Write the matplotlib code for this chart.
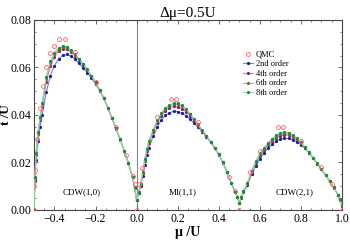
import numpy as np
import matplotlib
matplotlib.use("Agg")
import matplotlib.pyplot as plt
from matplotlib.ticker import MultipleLocator

plt.rcParams["font.family"] = ["Liberation Serif", "DejaVu Serif"]
plt.rcParams["mathtext.fontset"] = "stix"

# chemical potential grids for the three lobes
mu1 = [-0.5, -0.495, -0.49, -0.48, -0.47, -0.46, -0.44, -0.42, -0.40, -0.38,
       -0.36, -0.34, -0.32, -0.30, -0.28, -0.26, -0.24, -0.22, -0.20, -0.18,
       -0.16, -0.14, -0.12, -0.10, -0.08, -0.06, -0.04, -0.02, -0.01, 0.0]
mu2 = [0.01, 0.02, 0.03, 0.04, 0.05, 0.06, 0.08, 0.10, 0.12, 0.14, 0.16,
       0.18, 0.20, 0.22, 0.24, 0.26, 0.28, 0.30, 0.32, 0.34, 0.36, 0.38,
       0.40, 0.42, 0.44, 0.46, 0.48, 0.49, 0.50]
mu3 = [0.51, 0.52, 0.54, 0.56, 0.58, 0.60, 0.62, 0.64, 0.66, 0.68, 0.70,
       0.72, 0.74, 0.76, 0.78, 0.80, 0.82, 0.84, 0.86, 0.88, 0.90, 0.92,
       0.94, 0.96, 0.98, 0.99, 1.00]

# t/U of each order of the strong coupling expansion
o2_1 = [0.0, 0.012, 0.021, 0.029, 0.035, 0.040, 0.0495, 0.0565, 0.0608, 0.0636,
        0.0651, 0.0655, 0.0648, 0.0634, 0.0617, 0.0598, 0.0578, 0.0555, 0.0530, 0.0502,
        0.0470, 0.0429, 0.0386, 0.0342, 0.0296, 0.0247, 0.0196, 0.0139, 0.0094, 0.0040]
o4_1 = [0.0, 0.013, 0.023, 0.032, 0.038, 0.0435, 0.0540, 0.0605, 0.0645, 0.0669,
        0.0678, 0.0677, 0.0665, 0.0649, 0.0632, 0.0611, 0.0589, 0.0563, 0.0535, 0.0505,
        0.0471, 0.0430, 0.0387, 0.0343, 0.0297, 0.0248, 0.0197, 0.0140, 0.0095, 0.0040]
o6_1 = [0.0, 0.0135, 0.0235, 0.0325, 0.0385, 0.0445, 0.0553, 0.0617, 0.0655, 0.0677,
        0.0686, 0.0684, 0.0670, 0.0653, 0.0635, 0.0614, 0.0591, 0.0564, 0.0537, 0.0506,
        0.0472, 0.0430, 0.0387, 0.0343, 0.0297, 0.0248, 0.0197, 0.0140, 0.0095, 0.0040]
o8_1 = [0.0, 0.014, 0.024, 0.033, 0.039, 0.045, 0.0560, 0.0625, 0.0662, 0.0683,
        0.0690, 0.0688, 0.0673, 0.0655, 0.0637, 0.0615, 0.0592, 0.0565, 0.0537, 0.0506,
        0.0472, 0.0430, 0.0387, 0.0343, 0.0297, 0.0248, 0.0197, 0.0140, 0.0095, 0.0040]

o2_2 = [0.0070, 0.0100, 0.0145, 0.0190, 0.0230, 0.0262, 0.0310, 0.0348, 0.0378, 0.0398,
        0.0410, 0.0415, 0.0414, 0.0408, 0.0397, 0.0382, 0.0365, 0.0348, 0.0328, 0.0307,
        0.0285, 0.0260, 0.0233, 0.0199, 0.0159, 0.0114, 0.0074, 0.0054, 0.0030]
o4_2 = [0.0073, 0.0105, 0.0155, 0.0205, 0.0248, 0.0282, 0.0328, 0.0366, 0.0395, 0.0418,
        0.0430, 0.0436, 0.0435, 0.0427, 0.0414, 0.0396, 0.0376, 0.0355, 0.0332, 0.0310,
        0.0287, 0.0261, 0.0234, 0.0200, 0.0160, 0.0115, 0.0075, 0.0055, 0.0030]
o6_2 = [0.0074, 0.0108, 0.0157, 0.0211, 0.0254, 0.0288, 0.0334, 0.0373, 0.0403, 0.0425,
        0.0438, 0.0444, 0.0444, 0.0436, 0.0421, 0.0402, 0.0381, 0.0358, 0.0334, 0.0311,
        0.0288, 0.0262, 0.0235, 0.0200, 0.0160, 0.0115, 0.0075, 0.0055, 0.0030]
o8_2 = [0.0075, 0.0110, 0.0160, 0.0215, 0.0258, 0.0292, 0.0338, 0.0377, 0.0408, 0.0430,
        0.0443, 0.0449, 0.0449, 0.0440, 0.0425, 0.0405, 0.0383, 0.0360, 0.0335, 0.0312,
        0.0288, 0.0262, 0.0235, 0.0200, 0.0160, 0.0115, 0.0075, 0.0055, 0.0030]

o2_3 = [0.0052, 0.0075, 0.0105, 0.0150, 0.0187, 0.0216, 0.0240, 0.0260, 0.0276, 0.0289,
        0.0298, 0.0302, 0.0301, 0.0296, 0.0287, 0.0275, 0.0259, 0.0240, 0.0219, 0.0195,
        0.0171, 0.0147, 0.0121, 0.0094, 0.0064, 0.0044, 0.0015]
o4_3 = [0.0054, 0.0078, 0.0111, 0.0158, 0.0197, 0.0228, 0.0252, 0.0272, 0.0289, 0.0302,
        0.0312, 0.0316, 0.0315, 0.0308, 0.0296, 0.0280, 0.0261, 0.0241, 0.0219, 0.0195,
        0.0171, 0.0147, 0.0121, 0.0094, 0.0065, 0.0045, 0.0015]
o6_3 = [0.0055, 0.0079, 0.0113, 0.0162, 0.0201, 0.0233, 0.0257, 0.0278, 0.0295, 0.0308,
        0.0318, 0.0322, 0.0320, 0.0312, 0.0299, 0.0282, 0.0263, 0.0242, 0.0219, 0.0196,
        0.0172, 0.0148, 0.0122, 0.0095, 0.0065, 0.0045, 0.0015]
o8_3 = [0.0055, 0.0080, 0.0115, 0.0165, 0.0205, 0.0238, 0.0262, 0.0283, 0.0300, 0.0314,
        0.0325, 0.0329, 0.0326, 0.0317, 0.0303, 0.0285, 0.0265, 0.0243, 0.0220, 0.0196,
        0.0172, 0.0148, 0.0122, 0.0095, 0.0065, 0.0045, 0.0015]

# QMC points
qmc_mu = [-0.5, -0.499, -0.497, -0.485, -0.47, -0.455, -0.44, -0.42, -0.40,
          -0.377, -0.349, -0.30, -0.20, -0.10, -0.05, -0.02, -0.01, 0.0,
          0.01, 0.024, 0.10, 0.167, 0.19, 0.30, 0.45, 0.48, 0.50,
          0.55, 0.60, 0.69, 0.714, 0.80, 0.90, 0.95, 1.0]
qmc_t = [0.0, 0.010, 0.017, 0.030, 0.043, 0.052, 0.060, 0.066, 0.069,
         0.0719, 0.0719, 0.0665, 0.054, 0.035, 0.023, 0.0145, 0.011, 0.0,
         0.011, 0.0177, 0.039, 0.0465, 0.0465, 0.037, 0.014, 0.008, 0.0,
         0.016, 0.025, 0.0348, 0.0348, 0.029, 0.018, 0.011, 0.0]

series = [
    ("2nd order", [o2_1, o2_2, o2_3], "#7080d8", "#1a1a9a"),
    ("4th order", [o4_1, o4_2, o4_3], "#d080b0", "#8a1a6a"),
    ("6th order", [o6_1, o6_2, o6_3], "#c8a860", "#7a6a20"),
    ("8th order", [o8_1, o8_2, o8_3], "#80d8a8", "#208a40"),
]

mu = np.concatenate([mu1, mu2, mu3])

fig = plt.figure(figsize=(3.5, 2.43), dpi=100)
ax = fig.add_axes([0.097, 0.136, 0.88, 0.782])

ax.axvline(0.0, color="#888888", lw=0.8, zorder=1)

handles = []
qmc, = ax.plot(qmc_mu, qmc_t, ls="none", marker="o", ms=2.8, mfc="none",
               mec="#ff6060", mew=0.6, zorder=6, label="QMC")
for name, parts, lc, mc in series:
    h, = ax.plot(mu, np.concatenate(parts), color=lc, lw=0.8, marker="o",
                 ms=2.3, mfc=mc, mec=mc, mew=0, label=name, zorder=3)
    handles.append(h)

ax.set_xlim(-0.5, 1.0)
ax.set_ylim(0.0, 0.08)
ax.xaxis.set_major_locator(MultipleLocator(0.2))
ax.xaxis.set_minor_locator(MultipleLocator(0.05))
ax.yaxis.set_major_locator(MultipleLocator(0.02))
ax.yaxis.set_minor_locator(MultipleLocator(0.005))
ax.xaxis.set_major_formatter(plt.FuncFormatter(lambda v, p: f"{v:.1f}".replace("-", "\u2212")))
ax.yaxis.set_major_formatter(plt.FuncFormatter(lambda v, p: f"{v:.2f}"))
ax.tick_params(which="both", direction="in", top=True, right=True, labelsize=8.5,
               color="#555555", pad=2)
ax.tick_params(which="major", length=3, width=0.6)
ax.tick_params(which="minor", length=1.5, width=0.5)
for s in ax.spines.values():
    s.set_color("#444444")
    s.set_linewidth(0.8)

ax.set_xlabel("\u03bc /U", fontsize=10, fontweight="bold", labelpad=1)
ax.set_ylabel("t /U", fontsize=9.5, fontweight="bold")
ax.yaxis.set_label_coords(-0.072, 0.5)
fig.text(0.537, 0.93, "\u0394\u03bc=0.5U", ha="center", va="baseline", fontsize=11)

ax.text(-0.266, 0.0075, "CDW(1,0)", ha="center", va="center", fontsize=6.5)
ax.text(0.225, 0.0075, "MI(1,1)", ha="center", va="center", fontsize=6.5)
ax.text(0.77, 0.0075, "CDW(2,1)", ha="center", va="center", fontsize=6.5)

ax.legend([qmc] + handles, ["QMC"] + [s[0] for s in series],
          loc="upper left", bbox_to_anchor=(0.66, 0.87), frameon=False,
          fontsize=6, handlelength=1.2, handletextpad=0.3, labelspacing=0.2,
          borderpad=0.2, markerscale=1.0)

fig.savefig("out.png", dpi=100)
